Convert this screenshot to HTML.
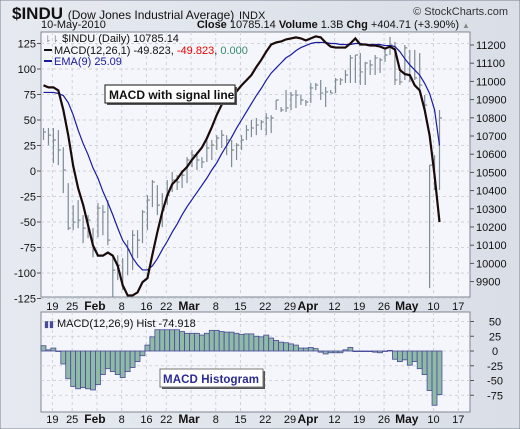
<!DOCTYPE html>
<html><head><meta charset="utf-8"><style>
html,body{margin:0;padding:0;background:#dde2ea;}
svg{display:block;font-family:"Liberation Sans",sans-serif;}
</style></head><body>
<svg id="chart" width="520" height="429" viewBox="0 0 520 429">
<defs><linearGradient id="bg" x1="0" y1="0" x2="1" y2="0"><stop offset="0" stop-color="#e6eaf0"/><stop offset="1" stop-color="#d9dee7"/></linearGradient></defs>
<rect x="0" y="0" width="520" height="429" fill="url(#bg)" stroke="#7a8090"/>
<text x="12" y="19" font-size="17" font-weight="bold" fill="#111">$INDU <tspan font-size="12" font-weight="normal">(Dow Jones Industrial Average)</tspan> <tspan font-size="11" font-weight="normal">INDX</tspan></text>
<text x="508" y="15" font-size="11" text-anchor="end" fill="#333">© StockCharts.com</text>
<text x="41" y="28" font-size="11" fill="#111">10-May-2010</text>
<text x="459" y="28" font-size="11" text-anchor="end" fill="#111"><tspan font-weight="bold">Close</tspan> 10785.14 <tspan font-weight="bold">Volume</tspan> 1.3B <tspan font-weight="bold">Chg</tspan> +404.71 (+3.90%)</text>
<text x="462" y="28" font-size="8" fill="#888">▲</text>
<rect x="41" y="32" width="429" height="265" fill="#f4f6fb" stroke="#7f8590"/>
<rect x="41" y="312" width="429" height="100" fill="#f4f6fb" stroke="#7f8590"/>
<g id="grid"></g><g id="marks"></g><g id="axes"></g>
<text x="44" y="42" font-size="11" fill="#111"><tspan fill="#889" font-size="9">⇂⇂</tspan> $INDU (Daily) 10785.14</text>
<g><line x1="44" y1="50" x2="52" y2="50" stroke="#111" stroke-width="2"/><text x="54" y="54" font-size="11" fill="#111">MACD(12,26,1) -49.823, <tspan fill="#e00">-49.823</tspan>, <tspan fill="#3a8a6a">0.000</tspan></text></g>
<g><line x1="44" y1="61" x2="52" y2="61" stroke="#1a1aa0" stroke-width="2"/><text x="54" y="65" font-size="11" fill="#1a1aa0">EMA(9) 25.09</text></g>
<g><rect x="107" y="87" width="130" height="18" fill="#555"/><rect x="105" y="85" width="130" height="18" fill="#fff" stroke="#111"/><text x="109" y="99" font-size="12" font-weight="bold" fill="#111">MACD with signal line</text></g>
<text x="44" y="327" font-size="11" fill="#111"><tspan fill="#4a4a9a" font-size="9">▮▮</tspan> MACD(12,26,9) Hist -74.918</text>
<g><rect x="162" y="371" width="103" height="18" fill="#555"/><rect x="160" y="369" width="103" height="18" fill="#fff" stroke="#777"/><text x="163" y="383" font-size="11.5" font-weight="bold" fill="#2a2a90" textLength="96">MACD Histogram</text></g>
</svg>
<script>
const macd=[84,82,82,79,60,35,5,-17,-33,-53,-73,-83,-83,-80,-83,-93,-112,-122,-122,-119,-109,-105,-82,-60,-40,-24,-13,-8,-1,4,11,17,23,32,43,55,65,69,74,78,84,89,94,102,109,117,124,126,127,129,130,131,130,128,130,132,131,126,122,121,121,121,125,130,124,124,123,123,122,120,122,119,99,95,94,84,79,60,35,-4,-50];
const ema=[77,77,77,76,74,67,55,40,27,16,3,-7,-20,-31,-43,-56,-68,-75,-85,-92,-97,-97,-93,-86,-77,-69,-60,-52,-43,-35,-28,-21,-14,-7,1,8,17,25,33,42,50,58,66,74,81,89,96,101,106,111,114,118,121,123,125,126,126,126,125,125,124,124,124,125,125,124,124,124,124,123,123,122,117,110,104,99,94,86,76,60,25];
const hist=[9,2,5,0,-22,-47,-60,-64,-62,-64,-66,-57,-40,-30,-35,-40,-45,-35,-28,-18,-8,10,24,36,36,36,36,36,33,30,30,30,27,30,35,35,33,32,32,30,28,29,29,25,24,27,22,18,15,14,12,10,5,5,6,4,-2,-5,-3,-3,-3,2,6,-1,-1,-1,-1,-2,-3,0,1,-14,-18,-15,-24,-18,-30,-40,-67,-92,-74];
const hiY=[128,128,128,130,147,183,205,200,215,215,228,203,205,200,257,255,258,240,230,230,210,195,180,185,193,180,172,175,170,157,150,152,157,140,140,135,130,135,140,143,135,125,120,118,120,113,115,100,107,90,92,90,95,100,83,83,80,87,90,78,78,70,55,55,53,62,60,55,58,48,37,42,72,45,50,50,53,95,165,155,110];
const loY=[140,145,163,165,193,230,230,228,243,238,257,237,235,245,297,280,290,275,270,258,243,230,207,215,227,205,192,190,188,183,167,170,168,162,160,150,148,155,167,160,150,140,137,135,130,135,133,110,112,112,110,108,105,106,103,90,100,107,93,93,85,83,83,83,85,85,75,75,73,62,55,85,85,80,82,80,90,110,288,190,190];
const clY=[132,135,140,150,170,228,222,220,228,220,250,208,212,240,270,265,288,250,235,240,212,200,182,205,210,195,180,182,175,160,155,160,162,148,145,138,135,140,150,145,140,130,128,125,122,118,118,100,110,108,95,95,100,102,88,85,93,92,93,80,80,75,58,55,72,63,65,58,60,55,45,80,82,48,78,78,85,105,165,188,118];
const toPrice=y=>Math.round(11200-(y-45)*5.5);
const high=hiY.map(toPrice), low=loY.map(toPrice), close=clY.map(toPrice);
const leftTicks=[125,100,75,50,25,0,-25,-50,-75,-100,-125];
const rightTicks=[11200,11100,11000,10900,10800,10700,10600,10500,10400,10300,10200,10100,10000,9900];
const histTicks=[50,25,0,-25,-50,-75];
const dateLabels=["19","25","Feb","8","16","22","Mar","8","15","22","29","Apr","12","19","26","May","10","17"];
const dateIdx=[2,6,11,16,21,25,30,35,40,45,50,54,59,64,69,74,79,84];

const NS="http://www.w3.org/2000/svg";
const X=i=>43.5+i*4.95;
const Ym=v=>171-v*1.02;
const Yp=p=>45+(11200-p)*0.182;
const Yh=v=>351-v*0.59;
function mk(par,tag,at){const e=document.createElementNS(NS,tag);for(const k in at)e.setAttribute(k,at[k]);document.getElementById(par).appendChild(e);return e;}
leftTicks.forEach(v=>{const e=mk('grid','line',{x1:41,x2:470,y1:Ym(v),y2:Ym(v),stroke:'#cfd3da','stroke-dasharray':'3,3'});

});
histTicks.forEach(v=>{const e=mk('grid','line',{x1:41,x2:470,y1:Yh(v),y2:Yh(v),stroke:'#cfd3da','stroke-dasharray':'3,3'});

});
dateIdx.forEach((d,k)=>{const x=X(d)-1;[[32,297],[312,412]].forEach(r=>{const e=mk('grid','line',{x1:x,x2:x,y1:r[0],y2:r[1],stroke:'#cfd3da','stroke-dasharray':'3,3'});

});
[310,423].forEach(y=>{const bold=isNaN(dateLabels[k]);const t=mk('axes','text',{x:x+(bold?-2:0),y:y,'font-size':bold?12:11,'font-weight':bold?'bold':'normal','text-anchor':'middle',fill:'#111'});t.textContent=dateLabels[k];

});});
leftTicks.forEach(v=>{const t=mk('axes','text',{x:36,y:Ym(v)+4,'font-size':11,'text-anchor':'end',fill:'#111'});t.textContent=v;


mk('axes','line',{x1:37,x2:41,y1:Ym(v),y2:Ym(v),stroke:'#555'});});
rightTicks.forEach(v=>{const t=mk('axes','text',{x:476,y:Yp(v)+4,'font-size':11,fill:'#111'});t.textContent=v;


mk('axes','line',{x1:470,x2:474,y1:Yp(v),y2:Yp(v),stroke:'#555'});});
histTicks.forEach(v=>{const t=mk('axes','text',{x:495,y:Yh(v)+4,'font-size':11,'text-anchor':'middle',fill:'#111'});t.textContent=v;


mk('axes','line',{x1:470,x2:474,y1:Yh(v),y2:Yh(v),stroke:'#555'});});
hist.forEach((v,i)=>{const y0=Yh(0),y1=Yh(v);const e=mk('marks','rect',{x:X(i)-2.5,y:Math.min(y0,y1),width:4.95,height:Math.max(0.5,Math.abs(y1-y0)),fill:'#8fbaa8',stroke:'#4a4a9a','stroke-width':0.8});

});
close.forEach((c,i)=>{const x=X(i);const g=mk('marks','path',{d:`M${x},${Yp(high[i])}V${Yp(low[i])}M${x},${Yp(c)}H${x+2.5}`,stroke:'#7f8c94','stroke-width':1.2,fill:'none'});

});
const l1=mk('marks','polyline',{points:ema.map((v,i)=>X(i)+','+Ym(v)).join(' '),fill:'none',stroke:'#1a1aa0','stroke-width':1.2});


const l2=mk('marks','polyline',{points:macd.map((v,i)=>X(i)+','+Ym(v)).join(' '),fill:'none',stroke:'#1a0a0a','stroke-width':2.2});


</script>
</body></html>
